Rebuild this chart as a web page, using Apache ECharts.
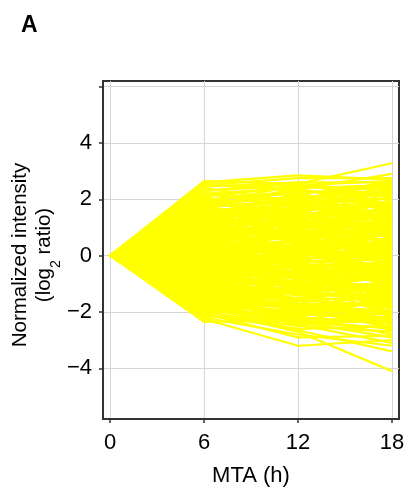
<!DOCTYPE html>
<html>
<head>
<meta charset="utf-8">
<script src="https://cdn.jsdelivr.net/npm/echarts@6/dist/echarts.min.js"></script>
<style>
  html, body { margin: 0; padding: 0; background: #fff; }
  #chart { width: 407px; height: 489px; }
</style>
</head>
<body>
<div id="chart"></div>
<script>
// time points (h) and the per-profile values read off at 6, 12 and 18 h
// (every profile starts at 0 at 0 h)
var hours = [0, 6, 12, 18];
var xTicks = [0, 6, 12, 18];
var yTicks = [-4, -2, 0, 2, 4, 6];
var yLabels = [-4, -2, 0, 2, 4];

var at6 = [2.65, 2.6, 2.5, 2.45, 2.3, 2.2, 2.55, 2.1, 2.0, 1.95,
    1.9, 1.8, 1.75, 1.7, 1.6, 1.55, 1.5, 1.4, 1.35, 1.3,
    1.2, 1.15, 1.1, 1.0, 0.95, 0.9, 0.85, 0.8, 0.75, 0.7,
    0.65, 0.6, 0.55, 0.5, 0.45, 0.4, 0.35, 0.3, 0.25, 0.2,
    0.15, 0.1, 0.05, 0.0, -0.05, -0.1, -0.15, -0.2, -0.25, -0.3,
    -0.35, -0.4, -0.45, -0.5, -0.55, -0.6, -0.65, -0.7, -0.75, -0.8,
    -0.85, -0.9, -0.95, -1.0, -1.05, -1.1, -1.15, -1.2, -1.25, -1.3,
    -1.35, -1.4, -1.45, -1.5, -1.55, -1.6, -1.65, -1.7, -1.75, -1.8,
    -1.85, -1.9, -2.0, -2.1, -2.2, -2.35, -2.25, -1.95, -2.05, -1.7,
    1.0, -0.5, 0.3, 1.6, -1.2, 0.8, -0.3, 2.2, -1.4, 0.5,
    1.8, 0.4, -0.8, -1.6, 1.3, 0.0, -0.2, 1.5, -1.0, 0.7,
    2.1, -1.9, 0.2, -0.6, 1.1, -1.3, 0.9, -0.4, 1.7, -1.1,
    2.4, -2.1, 0.6, -0.9, 1.4, -1.5, 0.1, -0.7, 1.9, -1.7,
    0.35, -0.15, 2.3, -1.25, 1.25, -0.55, 0.75, -2.0, 1.65, -0.35,
    0.95, -1.45, 2.0, -0.65, 0.45, -1.8, 1.2, -0.1, -2.15, 0.55,
    -1.0, 1.45, -0.45, 0.25, -1.35, 1.85, -0.85, 0.65, -1.6, 1.05,
    0.3, -0.4, 1.1, -1.2, 0.7, -0.9, 1.6, -1.5, 0.2, 0.9,
    -0.6, 1.35, -1.8, 0.5, -0.2, 2.0, -1.05, 0.05, -0.75, 1.5,
    -1.4, 0.8, -0.3, 1.2, -1.65, 0.4, -0.05, 1.75, -0.95, 0.6,
    -1.25, 2.2, -0.5, 1.0, -1.9, 0.15, -0.8, 1.45, -1.1, 0.65];
var at12 = [2.55, 2.85, 2.75, 2.6, 2.5, 2.4, 2.3, 2.45, 2.2, 2.3,
    2.05, 2.1, 1.9, 2.0, 1.8, 1.7, 1.85, 1.6, 1.5, 1.65,
    1.4, 1.5, 1.3, 1.2, 1.25, 1.05, 1.1, 0.95, 0.9, 0.8,
    0.85, 0.7, 0.6, 0.65, 0.5, 0.45, 0.5, 0.35, 0.3, 0.25,
    0.1, 0.2, 0.0, 0.05, -0.1, -0.05, -0.2, -0.3, -0.2, -0.4,
    -0.45, -0.35, -0.55, -0.6, -0.7, -0.65, -0.8, -0.75, -0.9, -0.95,
    -1.0, -1.1, -1.05, -1.2, -1.25, -1.3, -1.4, -1.35, -1.5, -1.55,
    -1.6, -1.7, -1.75, -1.8, -1.9, -1.85, -2.0, -2.1, -2.05, -2.2,
    -2.3, -2.4, -2.5, -2.6, -2.8, -2.3, -3.2, -2.7, -2.9, -2.45,
    0.6, 0.2, -0.4, 1.2, -0.6, 1.4, -1.0, 1.7, -0.9, 1.0,
    0.9, 1.5, 0.3, -0.7, 2.2, -1.3, 0.9, 0.4, -1.9, -0.2,
    1.3, -1.3, 1.8, -1.6, 0.1, -2.2, 2.0, 0.7, 2.4, 0.0,
    1.9, -1.5, -0.7, -1.6, 1.0, -2.3, 0.8, -0.1, 1.5, -1.1,
    -0.9, 1.2, 2.6, -2.5, 1.9, -1.35, 0.25, -2.05, 2.35, -0.8,
    1.6, -0.5, 1.1, 0.45, 1.35, -2.65, 0.5, -0.6, -2.35, 2.1,
    -0.3, 2.15, 0.55, -0.25, -1.15, 2.5, -1.75, 1.15, -2.15, 0.75,
    1.6, -1.4, -0.4, 0.5, 1.7, -2.0, 0.6, -0.9, -0.8, 2.3,
    0.35, -0.1, -1.2, 1.0, -1.7, 1.45, 0.15, 0.95, -2.1, 2.05,
    -0.15, -0.55, 1.45, 1.85, -2.45, -1.15, 0.6, 0.8, -0.35, 1.25,
    -1.9, 2.0, -1.2, 0.15, -1.6, 0.5, -0.25, 1.7, -2.35, -0.05];
var at18 = [3.28, 2.7, 2.75, 2.6, 2.65, 2.5, 2.2, 2.35, 2.45, 2.1,
    2.3, 2.0, 2.2, 1.85, 2.05, 1.9, 1.7, 1.8, 1.6, 1.75,
    1.5, 1.3, 1.45, 1.35, 1.1, 1.2, 1.0, 1.15, 0.85, 0.95,
    0.7, 0.8, 0.75, 0.55, 0.6, 0.4, 0.3, 0.45, 0.2, 0.35,
    0.2, 0.05, 0.1, -0.1, 0.0, -0.2, -0.1, -0.35, -0.3, -0.25,
    -0.5, -0.45, -0.6, -0.5, -0.75, -0.7, -0.85, -0.9, -0.8, -1.05,
    -1.1, -1.0, -1.2, -1.3, -1.15, -1.45, -1.35, -1.55, -1.6, -1.5,
    -1.75, -1.8, -1.7, -1.95, -2.0, -2.1, -2.2, -2.05, -2.3, -2.4,
    -2.2, -2.55, -2.7, -2.5, -3.2, -2.6, -3.0, -4.1, -2.85, -3.1,
    0.2, 0.8, -1.0, 0.9, 0.1, 1.9, -1.6, 1.4, -0.4, 1.6,
    1.5, 0.6, -0.5, -1.9, 1.1, -0.6, 2.0, -0.3, -1.2, 0.5,
    2.4, -2.6, 1.2, -2.4, 1.0, -1.4, 2.6, -0.8, 1.6, 0.6,
    2.2, -1.1, -1.4, -0.3, 2.3, -1.8, 1.3, -1.7, 0.7, -2.7,
    0.3, 0.4, 1.8, -2.0, 2.7, -0.9, -0.6, -1.6, 2.9, -1.3,
    0.35, -1.0, 1.7, 1.1, 2.1, -3.4, 0.0, 0.7, -2.9, 1.45,
    -2.25, 1.25, 0.15, -0.95, -0.7, 2.15, -2.45, 0.45, -2.8, 1.55,
    -0.2, 0.4, -1.8, 1.9, 2.5, -1.5, 1.35, -2.15, -0.15, 1.0,
    -1.25, 0.85, -0.5, -0.4, -2.6, 2.55, -0.05, 1.75, -1.05, 0.55,
    1.3, -2.05, 0.95, 2.35, -1.35, -0.75, 1.5, 0.25, -1.85, 1.9,
    -2.55, 1.25, 0.5, -0.55, -1.0, -1.15, 0.85, 0.05, -2.35, 1.2];

var font = 'Liberation Sans, Arial, sans-serif';
var minus = function (v) { return String(v).replace('-', '\u2212'); };

var series = [];
for (var i = 0; i < at6.length; i++) {
    var vals = [0, at6[i], at12[i], at18[i]];
    series.push({
        type: 'line',
        data: hours.map(function (h, k) { return [h, vals[k]]; }),
        showSymbol: false,
        silent: true,
        animation: false,
        lineStyle: { color: '#ffff00', width: 2.2 },
        z: 2
    });
}

var myChart = echarts.init(document.getElementById('chart'));
var option = {
    animation: false,
    title: {
        text: 'A',
        left: 16,
        top: 9,
        textStyle: { fontFamily: font, fontSize: 23, fontWeight: 'bold', color: '#000' }
    },
    grid: {
        left: 103,
        right: 8,
        top: 81,
        bottom: 70,
        outerBoundsMode: 'none',
        containLabel: false,
        show: true,
        borderColor: '#333',
        borderWidth: 2,
        backgroundColor: '#fff'
    },
    xAxis: {
        type: 'value',
        min: -0.45,
        max: 18.45,
        name: 'MTA (h)',
        nameLocation: 'middle',
        nameGap: 46,
        nameMoveOverlap: false,
        nameTextStyle: { fontFamily: font, fontSize: 22, color: '#000' },
        axisLine: { show: true, onZero: false, lineStyle: { color: '#333', width: 2 } },
        axisTick: { show: true, customValues: xTicks, length: 4, lineStyle: { color: '#333', width: 1.5 } },
        axisLabel: { customValues: xTicks, margin: 13, fontFamily: font, fontSize: 22, color: '#000' },
        splitLine: { show: true, lineStyle: { color: '#d6d6d6', width: 1 } }
    },
    yAxis: {
        type: 'value',
        min: -5.8,
        max: 6.2,
        name: '{a|Normalized intensity}\n{a|(log}{s|2}{a| ratio)}',
        nameLocation: 'middle',
        nameGap: 47,
        nameMoveOverlap: false,
        nameRotate: 90,
        nameTextStyle: {
            fontFamily: font,
            color: '#000',
            lineHeight: 24,
            padding: [0, 10, 0, 0],
            rich: {
                a: { fontFamily: font, fontSize: 20.5, color: '#000', lineHeight: 24 },
                s: { fontFamily: font, fontSize: 14, color: '#000', lineHeight: 24, verticalAlign: 'bottom', padding: [0, 0, -7, 0] }
            }
        },
        axisLine: { show: true, onZero: false, lineStyle: { color: '#333', width: 2 } },
        axisTick: { show: true, customValues: yTicks, length: 4, lineStyle: { color: '#333', width: 1.5 } },
        axisLabel: {
            customValues: yLabels,
            margin: 11,
            fontFamily: font,
            fontSize: 22,
            color: '#000',
            formatter: minus
        },
        splitLine: { show: true, lineStyle: { color: '#d6d6d6', width: 1 } }
    },
    series: series
};
myChart.setOption(option);
</script>
</body>
</html>
